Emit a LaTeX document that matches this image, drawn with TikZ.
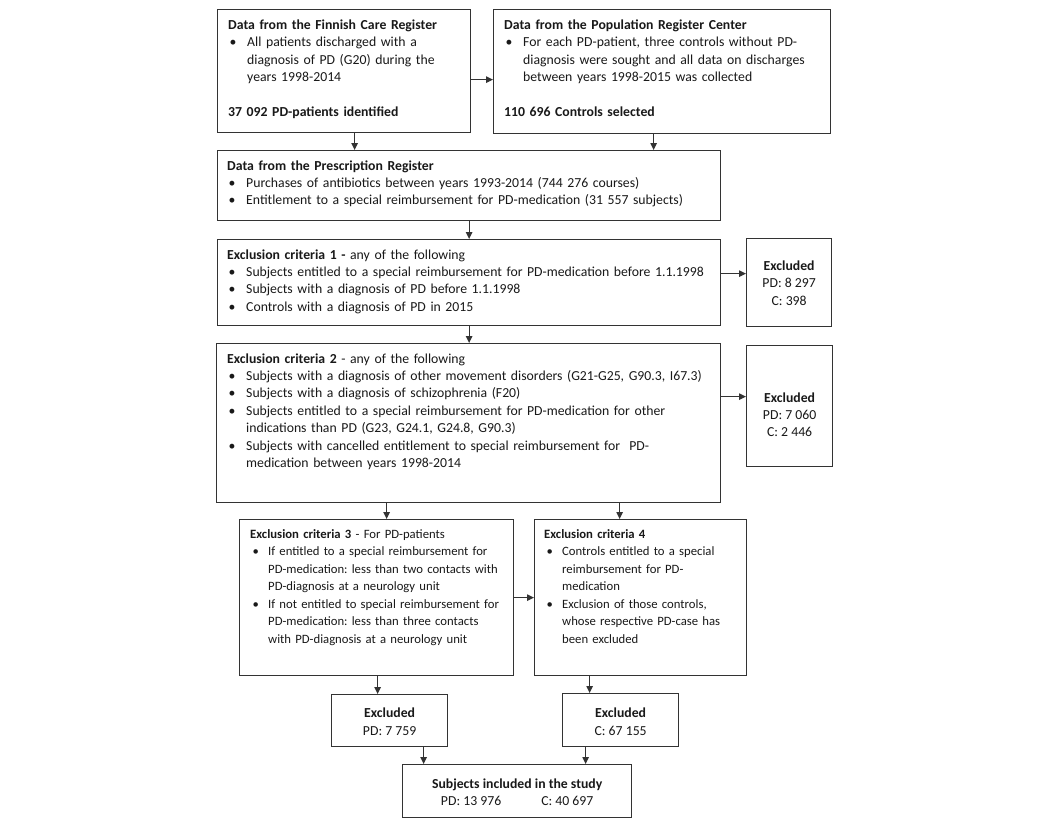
\documentclass[tikz,border=0pt]{standalone}
\usepackage{fontspec}
\setmainfont{Carlito}
\usetikzlibrary{arrows.meta}
\definecolor{ln}{gray}{0.2}
\definecolor{tx}{gray}{0.1}
\frenchspacing
\newcommand\bl[1]{\par\noindent\makebox[19pt][l]{\hspace{1.5pt}\textbullet}#1}
\newcommand\cl[1]{\par\noindent\hspace*{19pt}#1}
\newcommand\sbl[1]{\par\noindent\makebox[18pt][l]{\hspace{2.5pt}\textbullet}#1}
\newcommand\scl[1]{\par\noindent\hspace*{18pt}#1}
\begin{document}
\begin{tikzpicture}[x=1pt,y=-1pt,
 box/.style={draw=ln, line width=1.3pt, inner sep=0pt, anchor=north west},
 txt/.style={inner sep=0pt, anchor=base west, text width=560pt, font=\fontsize{13.75}{17.4}\selectfont, text=tx},
 stxt/.style={txt, font=\fontsize{12.7}{17.5}\selectfont},
 ctxt/.style={inner sep=0pt, align=center, font=\fontsize{13.75}{17.4}\selectfont, text=tx},
 arr/.style={draw=ln, line width=1.1pt, -{Triangle[length=7pt,width=6.5pt]}}]
\fill[white] (0,0) rectangle (1047,828);
\useasboundingbox (0,0) rectangle (1047,828);
% boxes
\node[box, minimum width=253pt, minimum height=123pt] (b1) at (217,9) {};
\node[box, minimum width=337pt, minimum height=124pt] (b2) at (493,9) {};
\node[box, minimum width=503pt, minimum height=70pt] (b3) at (217,150) {};
\node[box, minimum width=503pt, minimum height=86pt] (b4) at (217,239) {};
\node[box, minimum width=85pt, minimum height=88pt] (e1) at (746,238) {};
\node[box, minimum width=504pt, minimum height=159pt] (b5) at (216,343) {};
\node[box, minimum width=86pt, minimum height=121pt] (e2) at (746,345) {};
\node[box, minimum width=274pt, minimum height=156pt] (b6) at (239,519) {};
\node[box, minimum width=212pt, minimum height=156pt] (b7) at (534,519) {};
\node[box, minimum width=116pt, minimum height=52pt] (e3) at (331,694) {};
\node[box, minimum width=116pt, minimum height=53pt] (e4) at (562,693) {};
\node[box, minimum width=229pt, minimum height=53pt] (f) at (402,764) {};
% texts
\node[txt] (t1) at ([shift={(11,20.5)}]b1.north west) {\noindent\textbf{Data from the Finnish Care Register}
\bl{All patients discharged with a}
\cl{diagnosis of PD (G20) during the}
\cl{years 1998-2014}
\par\vspace{17.4pt}\noindent\textbf{37 092 PD-patients identified}};
\node[txt] (t2) at ([shift={(11,20.5)}]b2.north west) {\noindent\textbf{Data from the Population Register Center}
\bl{For each PD-patient, three controls without PD-}
\cl{diagnosis were sought and all data on discharges}
\cl{between years 1998-2015 was collected}
\par\vspace{17.4pt}\noindent\textbf{110 696 Controls selected}};
\node[txt] (t3) at ([shift={(10,20)}]b3.north west) {\noindent\textbf{Data from the Prescription Register}
\bl{Purchases of antibiotics between years 1993-2014 (744 276 courses)}
\bl{Entitlement to a special reimbursement for PD-medication (31 557 subjects)}};
\node[txt] (t4) at ([shift={(10,20)}]b4.north west) {\noindent\textbf{Exclusion criteria 1 -} any of the following
\bl{Subjects entitled to a special reimbursement for PD-medication before 1.1.1998}
\bl{Subjects with a diagnosis of PD before 1.1.1998}
\bl{Controls with a diagnosis of PD in 2015}};
\node[txt] (t5) at ([shift={(11,20)}]b5.north west) {\noindent\textbf{Exclusion criteria 2} - any of the following
\bl{Subjects with a diagnosis of other movement disorders (G21-G25, G90.3, I67.3)}
\bl{Subjects with a diagnosis of schizophrenia (F20)}
\bl{Subjects entitled to a special reimbursement for PD-medication for other}
\cl{indications than PD (G23, G24.1, G24.8, G90.3)}
\bl{Subjects with cancelled entitlement to special reimbursement for \ PD-}
\cl{medication between years 1998-2014}};
\node[stxt] (t6) at ([shift={(11,19)}]b6.north west) {\noindent\textbf{Exclusion criteria 3} - For PD-patients
\sbl{If entitled to a special reimbursement for}
\scl{PD-medication: less than two contacts with}
\scl{PD-diagnosis at a neurology unit}
\sbl{If not entitled to special reimbursement for}
\scl{PD-medication: less than three contacts}
\scl{with PD-diagnosis at a neurology unit}};
\node[stxt] (t7) at ([shift={(10,19)}]b7.north west) {\noindent\textbf{Exclusion criteria 4}
\sbl{Controls entitled to a special}
\scl{reimbursement for PD-}
\scl{medication}
\sbl{Exclusion of those controls,}
\scl{whose respective PD-case has}
\scl{been excluded}};
\node[ctxt] (te1) at ([shift={(0,0.5)}]e1.center) {\textbf{Excluded}\\PD: 8 297\\C: 398};
\node[ctxt] (te2) at ([shift={(0,8.5)}]e2.center) {\textbf{Excluded}\\PD: 7 060\\C: 2 446};
\node[ctxt] (te3) at ([shift={(0,1)}]e3.center) {\textbf{Excluded}\\PD: 7 759};
\node[ctxt] (te4) at ([shift={(0,1.5)}]e4.center) {\textbf{Excluded}\\C: 67 155};
\node[ctxt] (tf) at ([shift={(0,1)}]f.center) {\textbf{Subjects included in the study}\\PD: 13 976\hspace{40pt}C: 40 697};
% arrows
\draw[arr] ([shift={(0,8.5)}]b1.east) -- ([shift={(0,8.5)}]b1.east -| b2.west);
\draw[arr] ([shift={(10.5,0)}]b1.south) -- ([shift={(10.5,0)}]b1.south |- b3.north);
\draw[arr] ([shift={(-8.5,0)}]b2.south) -- ([shift={(-8.5,0)}]b2.south |- b3.north);
\draw[arr] (b3.south) -- (b3.south |- b4.north);
\draw[arr] ([shift={(0,-9)}]b4.east) -- ([shift={(0,-9)}]b4.east -| e1.west);
\draw[arr] (b4.south) -- (b4.south |- b5.north);
\draw[arr] ([shift={(0,-26.5)}]b5.east) -- ([shift={(0,-26.5)}]b5.east -| e2.west);
\draw[arr] ([shift={(-82,0)}]b5.south) -- ([shift={(-82,0)}]b5.south |- b6.north);
\draw[arr] ([shift={(151,0)}]b5.south) -- ([shift={(151,0)}]b5.south |- b7.north);
\draw[arr] (b6.east) -- (b6.east -| b7.west);
\draw[arr] ([shift={(1,0)}]b6.south) -- ([shift={(1,0)}]b6.south |- e3.north);
\draw[arr] ([shift={(-51,0)}]b7.south) -- ([shift={(-51,0)}]b7.south |- e4.north);
\draw[arr] ([shift={(34,0)}]e3.south) -- ([shift={(34,0)}]e3.south |- f.north);
\draw[arr] ([shift={(-35,0)}]e4.south) -- ([shift={(-35,0)}]e4.south |- f.north);
\end{tikzpicture}
\end{document}
